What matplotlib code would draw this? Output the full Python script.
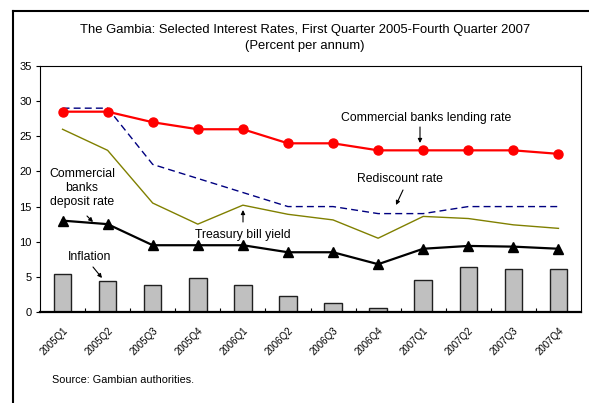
import matplotlib
matplotlib.use("Agg")
import matplotlib.pyplot as plt
from matplotlib.lines import Line2D
import numpy as np

plt.rcParams['font.family'] = ['Liberation Sans', 'DejaVu Sans']

quarters = ["2005Q1", "2005Q2", "2005Q3", "2005Q4", "2006Q1", "2006Q2",
            "2006Q3", "2006Q4", "2007Q1", "2007Q2", "2007Q3", "2007Q4"]
lending_rate = [28.5, 28.5, 27.0, 26.0, 26.0, 24.0, 24.0, 23.0, 23.0, 23.0, 23.0, 22.5]
rediscount_rate = [29.0, 29.0, 21.0, 19.0, 17.0, 15.0, 15.0, 14.0, 14.0, 15.0, 15.0, 15.0]
treasury_bill_yield = [26.0, 23.0, 15.5, 12.5, 15.2, 13.9, 13.1, 10.5, 13.6, 13.3, 12.4, 11.9]
deposit_rate = [13.0, 12.5, 9.5, 9.5, 9.5, 8.5, 8.5, 6.8, 9.0, 9.4, 9.3, 9.0]
inflation = [5.4, 4.4, 3.8, 4.9, 3.8, 2.3, 1.3, 0.5, 4.5, 6.4, 6.1, 6.1]
y_ticks = [0, 5, 10, 15, 20, 25, 30, 35]

W, H = 589, 403
fig = plt.figure(figsize=(W / 100, H / 100), dpi=100)
ax = fig.add_axes([40 / W, 1 - 312 / H, (581 - 40) / W, (312 - 66) / H])

x = np.arange(len(quarters))

ax.bar(x, inflation, width=0.39, color="#c0c0c0", edgecolor="#202020",
       linewidth=1.0, zorder=2)
ax.plot(x, treasury_bill_yield, color="#808000", lw=1.0, zorder=3)
ax.plot(x, rediscount_rate, color="#000080", lw=1.0, ls=(0, (5, 3)), zorder=3)
ax.plot(x, deposit_rate, color="black", lw=1.6, marker="^", ms=6.5, zorder=4)
ax.plot(x, lending_rate, color="#ff0000", lw=1.6, marker="o", ms=6.5, zorder=5)

ax.set_xlim(-0.5, len(quarters) - 0.5)
ax.set_ylim(0, 35)
ax.set_yticks(y_ticks)
ax.set_yticklabels([str(v) for v in y_ticks], fontsize=8)
ax.tick_params(axis="y", direction="out", length=3, width=0.8, pad=3)

ax.set_xticks(x)
ax.set_xticklabels(quarters, rotation=45, ha="right", va="top",
                   rotation_mode="anchor", fontsize=7)
ax.tick_params(axis="x", which="major", length=0, pad=10)
ax.set_xticks(np.arange(0.5, len(quarters) - 0.5, 1.0), minor=True)
ax.tick_params(axis="x", which="minor", direction="in", length=3, width=0.8)

for side in ["top", "right", "left"]:
    ax.spines[side].set_linewidth(0.8)
ax.spines["bottom"].set_linewidth(1.6)

txt = dict(fontsize=8.8, color="black")
arrow = dict(arrowstyle="-|>", color="black", lw=0.8, mutation_scale=6,
             shrinkA=0, shrinkB=0)


def px(xp, yp):
    """Convert pixel position to data coordinates of the axes."""
    xd = -0.5 + (xp - 40) / (581 - 40) * 12
    yd = (312 - yp) / (312 - 66) * 35
    return xd, yd


ax.text(*px(426, 118), "Commercial banks lending rate", ha="center", va="center", **txt)
ax.annotate("", xy=px(420, 143), xytext=px(420, 127), arrowprops=arrow)

ax.text(*px(400, 179), "Rediscount rate", ha="center", va="center", **txt)
ax.annotate("", xy=px(396, 205), xytext=px(403, 190), arrowprops=arrow)

ax.text(*px(82, 188), "Commercial\nbanks\ndeposit rate", ha="center", va="center",
        linespacing=1.2, **txt)
ax.annotate("", xy=px(93, 222), xytext=px(87, 216), arrowprops=arrow)

ax.text(*px(243, 235), "Treasury bill yield", ha="center", va="center", **txt)
ax.annotate("", xy=px(243, 210), xytext=px(243, 222), arrowprops=arrow)

ax.text(*px(90, 257), "Inflation", ha="center", va="center", **txt)
ax.annotate("", xy=px(102, 278), xytext=px(93, 267), arrowprops=arrow)

fig.text(305 / W, 1 - 30 / H, "The Gambia: Selected Interest Rates, First Quarter 2005-Fourth Quarter 2007",
         ha="center", va="center", fontsize=9.4)
fig.text(305 / W, 1 - 46 / H, "(Percent per annum)", ha="center", va="center", fontsize=9.4)
fig.text(52 / W, 1 - 380 / H, "Source: Gambian authorities.", ha="left", va="center", fontsize=7.8)

# outer frame (left and top edges)
fig.add_artist(Line2D([13 / W, 13 / W], [0, 1 - 11 / H], transform=fig.transFigure,
                      color="black", lw=1.5))
fig.add_artist(Line2D([13 / W, 1], [1 - 11 / H, 1 - 11 / H], transform=fig.transFigure,
                      color="black", lw=1.5))

fig.savefig("out.png", dpi=100)
